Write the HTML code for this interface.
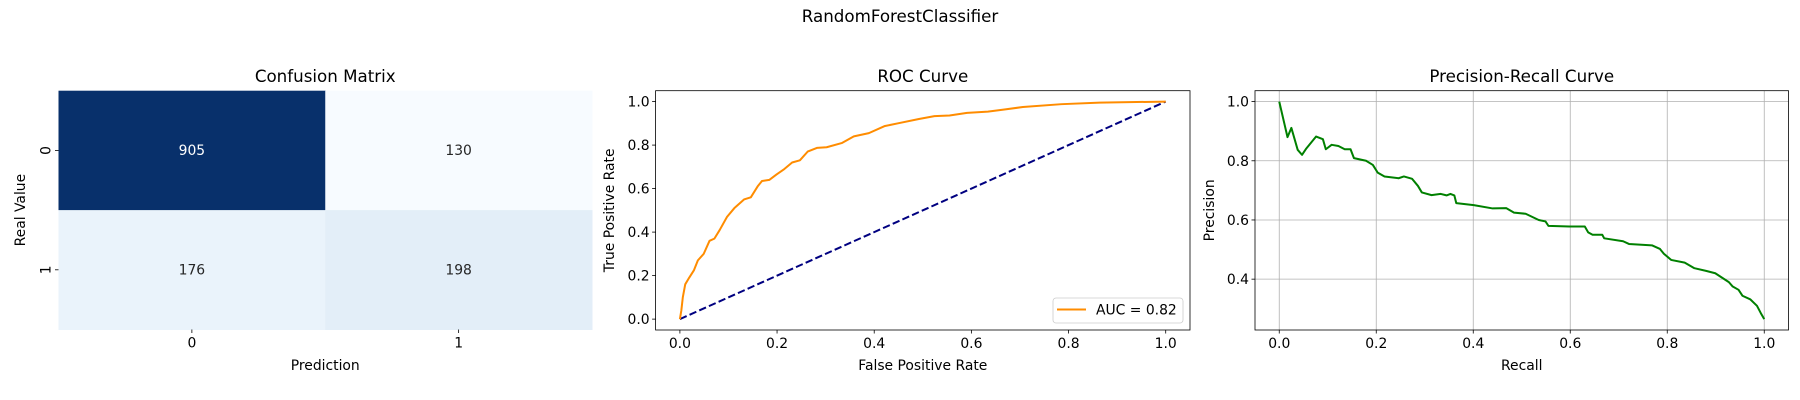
<!DOCTYPE html>
<html><head><meta charset="utf-8"><style>
body{margin:0;background:#fff}
svg{display:block;font-family:"DejaVu Sans","Liberation Sans",sans-serif}
</style></head><body>
<svg id="fig" width="1800" height="400" viewBox="0 0 1800 400" xmlns="http://www.w3.org/2000/svg">
<rect width="1800" height="400" fill="#fff"/>
<text x="900" y="22" font-size="16.7" text-anchor="middle">RandomForestClassifier</text>
<g id="cm"></g>
<g id="roc"></g>
<g id="pr"></g>
</svg>
<script>
const cmValues=[[905,130],[176,198]];
const cmColors=[["#08306b","#f7fbff"],["#eaf3fb","#e3eef8"]];
const cmLabels=["0","1"];
const rocFpr=[0,0.003,0.006,0.011,0.019,0.029,0.037,0.049,0.061,0.071,0.082,0.097,0.112,0.132,0.146,0.160,0.169,0.184,0.199,0.215,0.231,0.247,0.263,0.282,0.302,0.334,0.358,0.389,0.421,0.449,0.492,0.524,0.555,0.591,0.634,0.666,0.706,0.785,0.864,1];
const rocTpr=[0,0.04,0.10,0.16,0.19,0.225,0.27,0.30,0.36,0.37,0.41,0.47,0.51,0.55,0.56,0.61,0.635,0.64,0.665,0.69,0.72,0.73,0.77,0.787,0.79,0.81,0.84,0.855,0.887,0.90,0.92,0.933,0.936,0.948,0.954,0.963,0.975,0.988,0.995,1];
const prRecall=[0,0.017,0.025,0.038,0.047,0.056,0.076,0.090,0.096,0.108,0.122,0.135,0.147,0.154,0.179,0.193,0.203,0.217,0.246,0.257,0.274,0.286,0.294,0.314,0.333,0.345,0.353,0.361,0.365,0.401,0.440,0.468,0.484,0.508,0.535,0.549,0.555,0.598,0.630,0.637,0.646,0.666,0.670,0.709,0.721,0.769,0.785,0.793,0.808,0.836,0.856,0.880,0.899,0.927,0.935,0.947,0.955,0.971,0.985,0.993,1];
const prPrecision=[1.0,0.88,0.911,0.837,0.82,0.842,0.882,0.873,0.839,0.854,0.85,0.839,0.839,0.809,0.80,0.786,0.76,0.747,0.741,0.747,0.739,0.715,0.693,0.684,0.688,0.683,0.688,0.683,0.657,0.65,0.639,0.64,0.625,0.621,0.600,0.595,0.58,0.578,0.578,0.558,0.55,0.55,0.538,0.528,0.519,0.514,0.502,0.486,0.465,0.456,0.437,0.428,0.42,0.39,0.375,0.364,0.344,0.332,0.31,0.285,0.265];
const ticks=[0,0.2,0.4,0.6,0.8,1.0];
const prYTicks=[0.4,0.6,0.8,1.0];
const NS="http://www.w3.org/2000/svg";
function mk(p,tag,a,txt){const e=document.createElementNS(NS,tag);for(const k in a)e.setAttribute(k,a[k]);if(txt!==undefined)e.textContent=txt;p.appendChild(e);return e;}
function lin(d0,d1,r0,r1){return v=>r0+(v-d0)/(d1-d0)*(r1-r0);}

// Confusion matrix
(function(){
const g=document.getElementById('cm');
const L=58.5,R=592,T=90.7,B=329.5,cw=(R-L)/2,ch=(B-T)/2;
for(let r=0;r<2;r++)for(let c=0;c<2;c++){
 const rc=mk(g,'rect',{x:L+c*cw,y:T+r*ch,width:cw+0.5,height:ch+0.5,fill:cmColors[r][c]});
 
 
 const t=mk(g,'text',{x:L+(c+0.5)*cw,y:T+(r+0.5)*ch+4.5,'font-size':13.9,'text-anchor':'middle',fill:cmValues[r][c]>500?'#fff':'#262626'},String(cmValues[r][c]));
 
 
}
for(let i=0;i<2;i++){
 const x=L+(i+0.5)*cw,y=T+(i+0.5)*ch;
 mk(g,'line',{x1:x,x2:x,y1:B,y2:B+3.5,stroke:'#000','stroke-width':0.8});
 const tx=mk(g,'text',{x:x,y:B+18,'font-size':13.9,'text-anchor':'middle'},cmLabels[i]);
 
 
 mk(g,'line',{x1:L-3.5,x2:L,y1:y,y2:y,stroke:'#000','stroke-width':0.8});
 const ty=mk(g,'text',{x:0,y:0,'font-size':13.9,'text-anchor':'middle',transform:`translate(${L-8},${y}) rotate(-90)`},cmLabels[i]);
 
 
}
const t1=mk(g,'text',{x:(L+R)/2,y:82,'font-size':16.7,'text-anchor':'middle'},'Confusion Matrix');

const t2=mk(g,'text',{x:(L+R)/2,y:370,'font-size':13.9,'text-anchor':'middle'},'Prediction');

const t3=mk(g,'text',{x:0,y:0,'font-size':13.9,'text-anchor':'middle',transform:`translate(25,${(T+B)/2}) rotate(-90)`},'Real Value');

})();

function axesPanel(g,L,R,T,B,x0,x1,y0,y1,xt,yt,title,xl,yl,ylx,grid){
 const X=lin(x0,x1,L,R),Y=lin(y0,y1,B,T);
 if(grid){
  xt.forEach(v=>mk(g,'line',{x1:X(v),x2:X(v),y1:T,y2:B,stroke:'#b0b0b0','stroke-width':0.8}));
  yt.forEach(v=>mk(g,'line',{x1:L,x2:R,y1:Y(v),y2:Y(v),stroke:'#b0b0b0','stroke-width':0.8}));
 }
 xt.forEach(v=>{mk(g,'line',{x1:X(v),x2:X(v),y1:B,y2:B+3.5,stroke:'#000','stroke-width':0.8});
  const t=mk(g,'text',{x:X(v),y:B+18,'font-size':13.9,'text-anchor':'middle'},v.toFixed(1));
  });
 yt.forEach(v=>{mk(g,'line',{x1:L-3.5,x2:L,y1:Y(v),y2:Y(v),stroke:'#000','stroke-width':0.8});
  const t=mk(g,'text',{x:L-6,y:Y(v)+5,'font-size':13.9,'text-anchor':'end'},v.toFixed(1));
  });
 const a=mk(g,'text',{x:(L+R)/2,y:82,'font-size':16.7,'text-anchor':'middle'},title);
 
 const b=mk(g,'text',{x:(L+R)/2,y:370,'font-size':13.9,'text-anchor':'middle'},xl);
 
 const c=mk(g,'text',{x:0,y:0,'font-size':13.9,'text-anchor':'middle',transform:`translate(${ylx},${(T+B)/2}) rotate(-90)`},yl);
 
 return {X,Y};
}
function frame(g,L,R,T,B){const f=mk(g,'rect',{x:L,y:T,width:R-L,height:B-T,fill:'none',stroke:'#000','stroke-width':0.8});
 }

// ROC
(function(){
const g=document.getElementById('roc');
const L=655.6,R=1190,T=90.7,B=330;
const {X,Y}=axesPanel(g,L,R,T,B,-0.05,1.05,-0.05,1.05,ticks,ticks,'ROC Curve','False Positive Rate','True Positive Rate',614,false);
const d=mk(g,'line',{x1:X(0),y1:Y(0),x2:X(1),y2:Y(1),stroke:'#000080','stroke-width':2,'stroke-dasharray':'7.4,3.2'});

const p=mk(g,'polyline',{points:rocFpr.map((v,i)=>X(v)+','+Y(rocTpr[i])).join(' '),fill:'none',stroke:'#ff8c00','stroke-width':2,'stroke-linejoin':'round'});

frame(g,L,R,T,B);
const lg=mk(g,'g',{});

mk(lg,'rect',{x:1053,y:298,width:130,height:25,rx:3,fill:'#fff',stroke:'#ccc','stroke-width':0.8,'fill-opacity':0.8});
mk(lg,'line',{x1:1057,x2:1086,y1:309.5,y2:309.5,stroke:'#ff8c00','stroke-width':2});
const lt=mk(lg,'text',{x:1096,y:314.5,'font-size':13.9},'AUC = 0.82');

})();

// PR
(function(){
const g=document.getElementById('pr');
const L=1255,R=1788.5,T=90.7,B=330;
const ymin=0.265-0.0368,ymax=1.0368;
const {X,Y}=axesPanel(g,L,R,T,B,-0.05,1.05,ymin,ymax,ticks,prYTicks,'Precision-Recall Curve','Recall','Precision',1214,true);
const p=mk(g,'polyline',{points:prRecall.map((v,i)=>X(v)+','+Y(prPrecision[i])).join(' '),fill:'none',stroke:'#008000','stroke-width':2,'stroke-linejoin':'round'});

frame(g,L,R,T,B);
})();
</script>
</body></html>
